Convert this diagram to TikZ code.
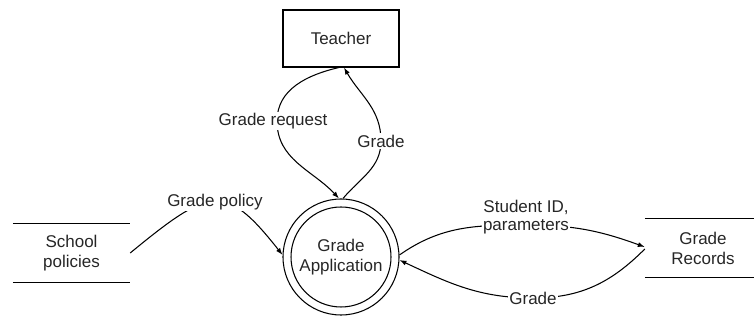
\documentclass[tikz,border=0pt]{standalone}
\usepackage{fontspec}
\setmainfont{Liberation Sans}
\usetikzlibrary{arrows.meta}
\begin{document}
\begin{tikzpicture}[x=1pt,y=1pt,
  every node/.style={font=\fontsize{17}{20}\selectfont, text=black!85},
  flow/.style={draw, line width=1.05pt, -{Latex[length=7pt,width=5pt]}},
  rule/.style={line width=1.05pt},
  lbl/.style={fill=white, inner sep=1.5pt, align=center},
  entity/.style={draw, line width=1.05pt, minimum width=116pt, minimum height=57pt},
  store/.style={minimum width=117pt, minimum height=59pt, inner sep=0pt, align=center},
  proc/.style={circle, draw, line width=1.05pt, inner sep=0pt, align=center},
]
\useasboundingbox (0,0) rectangle (754,320);

% external entity
\node[entity] (teacher) at (341,281.5) {Teacher};

% process: double circle
\node[proc, minimum size=116pt] (app) at (341,63) {};
\node[proc, minimum size=100pt] (appin) at (app.center) {Grade\\Application};

% data stores (open rectangles)
\node[store] (school) at (71.5,67) {School\\policies};
\draw[rule] (school.north west) -- (school.north east);
\draw[rule] (school.south west) -- (school.south east);

\node[store, minimum width=116pt] (rec) at (703,72) {Grade\\Records};
\draw[rule] (rec.north west) -- (rec.north east);
\draw[rule] (rec.south west) -- (rec.south east);

% data flows
\draw[flow] (school.east) .. controls (210.5,133) and (225.2,137.7) ..
  node[lbl, midway] {Grade policy} (app.178);

\draw[flow] ([xshift=-2pt]teacher.south) to[out=193,in=90] (277,199)
  node[lbl, xshift=-4pt] {Grade request}
  to[out=-90,in=133] ([xshift=-2pt]app.north);

\draw[flow] ([xshift=2pt]app.north) to[out=50,in=-90] (381,179)
  node[lbl] {Grade}
  to[out=90,in=-60] ([xshift=3pt]teacher.south);

\draw[flow] (app.2) to[out=35,in=180] (526,95)
  node[lbl, yshift=8pt] {Student ID,\\[-2pt]parameters}
  to[out=0,in=160] ([yshift=1pt]rec.west);

\draw[flow] ([yshift=-1pt]rec.west) to[out=225,in=0] (533,22)
  node[lbl] {Grade}
  to[out=180,in=-25] (app.-3);
\end{tikzpicture}
\end{document}
